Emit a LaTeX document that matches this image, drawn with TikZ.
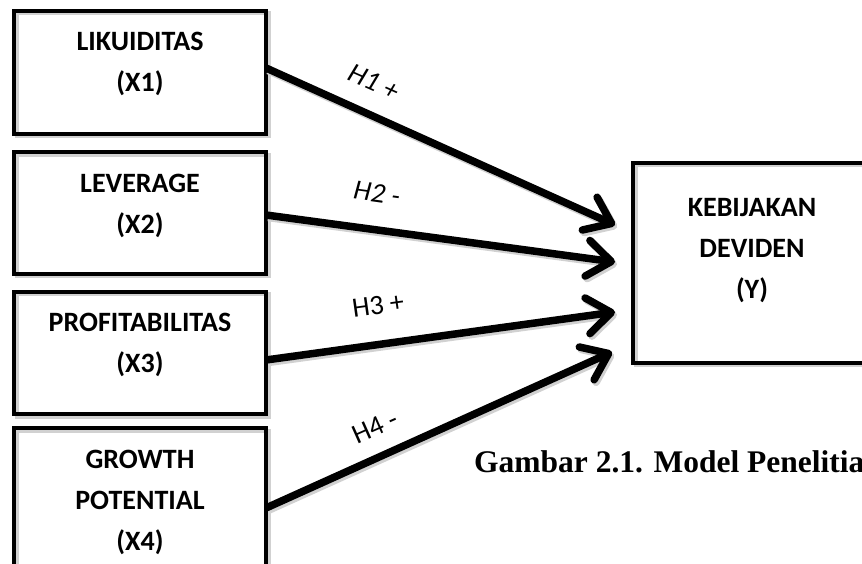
\documentclass[tikz,border=0pt]{standalone}
\usepackage{fontspec}
\setmainfont{Carlito}
\newfontfamily\capfont{Liberation Serif}
\usetikzlibrary{arrows.meta,calc}
\begin{document}
\begin{tikzpicture}[x=1pt,y=1pt,
  box/.style={draw, line width=4pt, inner sep=0pt, minimum width=252pt},
  boxshadow/.style={draw=black!18, line width=4pt, inner sep=0pt, minimum width=252pt},
  lbl/.style={font=\fontsize{28}{41}\selectfont\bfseries, align=center, inner sep=0pt},
  hyp/.style={font=\fontsize{28}{34}\selectfont, inner sep=0pt},
  conn/.style={line width=7.5pt, -{Straight Barb[length=24pt,width=36pt,round]}},
  connshadow/.style={conn, draw=black!18},
]
\useasboundingbox (0,0) rectangle (862,563);
\clip (0,0) rectangle (862,563);

% shadows of boxes
\node[boxshadow, minimum height=123pt] at (142.5,488) {};
\node[boxshadow, minimum height=121.5pt] at (142.5,347.5) {};
\node[boxshadow, minimum height=122.5pt] at (142.5,207.5) {};
\node[boxshadow, minimum height=152pt] at (142.5,56.5) {};
\node[boxshadow, minimum height=199.5pt, minimum width=238pt] at (754.5,297.75) {};

% boxes
\node[box, minimum height=123pt] (b1) at (140,490.5) {};
\node[box, minimum height=121.5pt] (b2) at (140,350) {};
\node[box, minimum height=122.5pt] (b3) at (140,210) {};
\node[box, minimum height=152pt] (b4) at (140,59) {};
\node[box, minimum height=199.5pt, minimum width=238pt] (y) at (752,300.25) {};

% box texts
\node[lbl] (t1) at (140,499) {LIKUIDITAS\\(X1)};
\node[lbl] (t2) at (140,357.3) {LEVERAGE\\(X2)};
\node[lbl] (t3) at (140,218.5) {PROFITABILITAS\\(X3)};
\node[lbl] (t4) at (140,60.5) {GROWTH\\POTENTIAL\\(X4)};
\node[lbl] (ty) at (752,312.5) {KEBIJAKAN\\DEVIDEN\\(Y)};

% connector end points
\coordinate (s1) at ($(b1.east)+(-2,4.5)$);
\coordinate (s2) at ($(b2.east)+(-2,-2)$);
\coordinate (s3) at ($(b3.east)+(-2,-7)$);
\coordinate (s4) at ($(b4.east)+(-2,-4)$);
\coordinate (e1) at (615,338);
\coordinate (e2) at (615,301);
\coordinate (e3) at (615,251);
\coordinate (e4) at (612,211);

% connector shadows
\draw[connshadow] ($(s1)+(2,-2.5)$) -- ($(e1)+(2,-2.5)$);
\draw[connshadow] ($(s2)+(2,-2.5)$) -- ($(e2)+(2,-2.5)$);
\draw[connshadow] ($(s3)+(2,-2.5)$) -- ($(e3)+(2,-2.5)$);
\draw[connshadow] ($(s4)+(2,-2.5)$) -- ($(e4)+(2,-2.5)$);

% connectors
\draw[conn] (s1) -- (e1);
\draw[conn] (s2) -- (e2);
\draw[conn] (s3) -- (e3);
\draw[conn] (s4) -- (e4);

% hypothesis labels
\node[hyp, rotate=-24] (h1) at (374,481) {\itshape H1 +};
\node[hyp, rotate=-8] (h2) at (377,370) {\itshape H2 -};
\node[hyp, rotate=8] (h3) at (378,258) {H3 +};
\node[hyp, rotate=24] (h4) at (375,136) {H4 -};

% caption
\node[anchor=base west, inner sep=0pt, font=\capfont\bfseries\fontsize{31.5}{36}\selectfont] (cap) at (474,91) {Gambar 2.1. Model Penelitian};
\end{tikzpicture}
\end{document}
